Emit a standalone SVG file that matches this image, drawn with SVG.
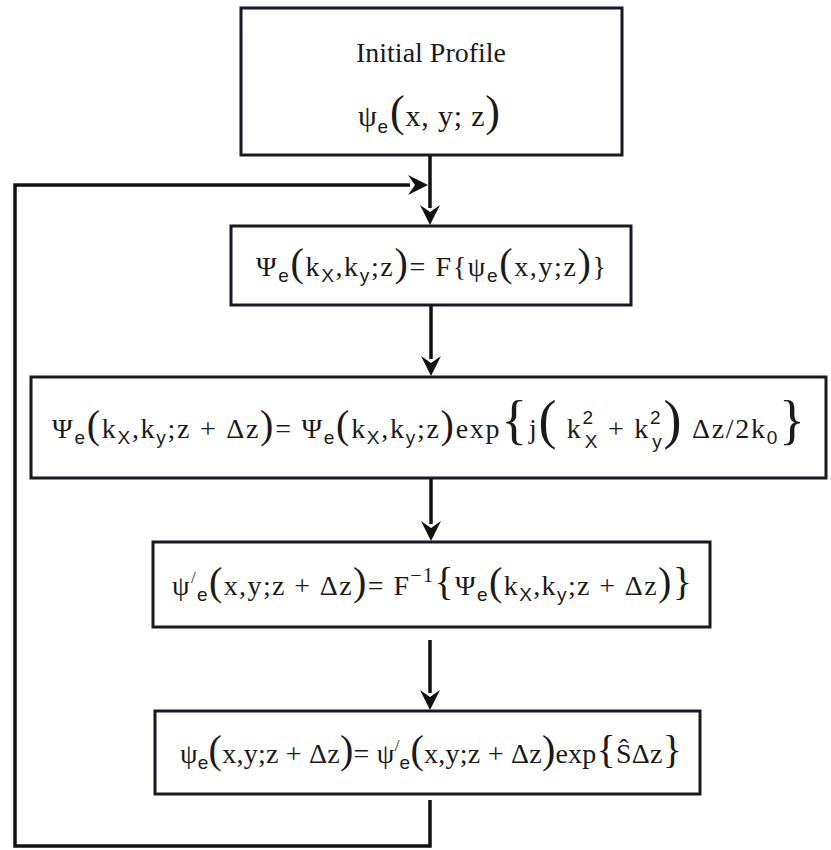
<svg xmlns="http://www.w3.org/2000/svg" width="831" height="850" viewBox="0 0 831 850">
<defs>
<marker id="ah" markerWidth="24" markerHeight="22" refX="0" refY="0" viewBox="-22 -11 24 22" markerUnits="userSpaceOnUse" orient="auto">
<path d="M0,0 L-20,-10 L-13,0 L-20,10 Z" fill="#111"/>
</marker>
</defs>
<style>
.box{fill:#fff;stroke:#1a1a22;stroke-width:3}
.ln{fill:none;stroke:#111;stroke-width:3.5}
.f{font-family:"Liberation Serif","Times New Roman",Times,serif;fill:#1a1a1a}
.t{font-size:28px}
.s{font-family:"Liberation Sans",Arial,sans-serif;font-size:19px}
.b{font-size:40px}
.p{font-size:17px}
</style>
<rect width="831" height="850" fill="#fff"/>
<g id="connectors">
<path class="ln" d="M430,800 V846 H15 V185 H410"/>
<path class="ln" d="M430,155 V208"/>
<path class="ln" d="M431,305 V359"/>
<path class="ln" d="M431,478 V524"/>
<path class="ln" d="M430,640 V693"/>
<line x1="405" y1="185" x2="428" y2="185" stroke="none" marker-end="url(#ah)"/>
<line x1="430" y1="195" x2="430" y2="225" stroke="none" marker-end="url(#ah)"/>
<line x1="431" y1="345" x2="431" y2="376" stroke="none" marker-end="url(#ah)"/>
<line x1="431" y1="510" x2="431" y2="541" stroke="none" marker-end="url(#ah)"/>
<line x1="430" y1="680" x2="430" y2="710" stroke="none" marker-end="url(#ah)"/>
</g>
<g id="n1">
<rect class="box" x="241" y="8" width="381" height="147"/>
<text class="f" x="356" y="62" font-size="27" textLength="150" lengthAdjust="spacingAndGlyphs">Initial Profile</text>
<text class="f" x="358" y="126" font-size="30" textLength="142" lengthAdjust="spacing">ψ<tspan class="s" font-size="21" dy="7">e</tspan><tspan font-size="44" dy="-7" dx="1">(</tspan>x, y; z<tspan font-size="44">)</tspan></text>
</g>
<g id="n2">
<rect class="box" x="231" y="226" width="400" height="79"/>
<text class="f t" x="256" y="276" textLength="350" lengthAdjust="spacing">Ψ<tspan class="s" dy="6">e</tspan><tspan class="b" dy="-6">(</tspan>k<tspan class="s" dy="6">X</tspan><tspan dy="-6">,k</tspan><tspan class="s" dy="6">y</tspan><tspan dy="-6">;z</tspan><tspan class="b">)</tspan>= F{ψ<tspan class="s" dy="6">e</tspan><tspan class="b" dy="-6">(</tspan>x,y;z<tspan class="b">)</tspan>}</text>
</g>
<g id="n3">
<rect class="box" x="31" y="377" width="795" height="101"/>
<text class="f t" x="52" y="438" textLength="753" lengthAdjust="spacing">Ψ<tspan class="s" dy="6">e</tspan><tspan class="b" dy="-6">(</tspan>k<tspan class="s" dy="6">X</tspan><tspan dy="-6">,k</tspan><tspan class="s" dy="6">y</tspan><tspan dy="-6">;z + Δz</tspan><tspan class="b">)</tspan>= Ψ<tspan class="s" dy="6">e</tspan><tspan class="b" dy="-6">(</tspan>k<tspan class="s" dy="6">X</tspan><tspan dy="-6">,k</tspan><tspan class="s" dy="6">y</tspan><tspan dy="-6">;z</tspan><tspan class="b">)</tspan>exp<tspan font-size="54">{</tspan>j<tspan font-size="54">(</tspan> k<tspan class="s" dy="-14">2</tspan><tspan class="s" dx="-10" dy="24">X</tspan><tspan dy="-10"> + k</tspan><tspan class="s" dy="-14">2</tspan><tspan class="s" dx="-10" dy="24">y</tspan><tspan font-size="54" dy="-10">)</tspan> Δz/2k<tspan class="s" dy="6">0</tspan><tspan font-size="54" dy="-6">}</tspan></text>
</g>
<g id="n4">
<rect class="box" x="153" y="542" width="557" height="85"/>
<text class="f t" x="172" y="595" textLength="520" lengthAdjust="spacing">ψ<tspan class="p" dy="-12">/</tspan><tspan class="s" dy="18">e</tspan><tspan class="b" dy="-6">(</tspan>x,y;z + Δz<tspan class="b">)</tspan>= F<tspan font-size="20" dy="-13">−1</tspan><tspan class="b" dy="13">{</tspan>Ψ<tspan class="s" dy="6">e</tspan><tspan class="b" dy="-6">(</tspan>k<tspan class="s" dy="6">X</tspan><tspan dy="-6">,k</tspan><tspan class="s" dy="6">y</tspan><tspan dy="-6">;z + Δz</tspan><tspan class="b">)}</tspan></text>
</g>
<g id="n5">
<rect class="box" x="155" y="711" width="545" height="83"/>
<text class="f t" x="180" y="763" textLength="502" lengthAdjust="spacing">ψ<tspan class="s" dy="6">e</tspan><tspan class="b" dy="-6">(</tspan>x,y;z + Δz<tspan class="b">)</tspan>= ψ<tspan class="p" dy="-12">/</tspan><tspan class="s" dy="18">e</tspan><tspan class="b" dy="-6">(</tspan>x,y;z + Δz<tspan class="b">)</tspan>exp<tspan class="b">{</tspan>ŜΔz<tspan class="b">}</tspan></text>
</g>
</svg>
